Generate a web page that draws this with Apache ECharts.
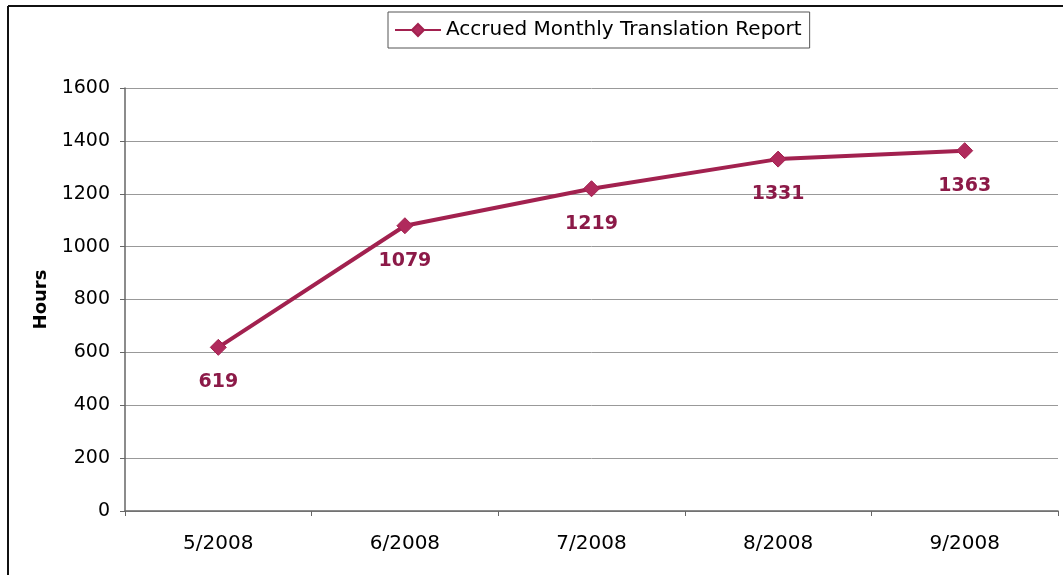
<!DOCTYPE html>
<html><head><meta charset="utf-8">
<script src="https://cdn.jsdelivr.net/npm/echarts@6/dist/echarts.min.js"></script>
<style>html,body{margin:0;padding:0;background:#fff}#c{width:1063px;height:575px}</style>
</head><body><div id="c"></div>
<script>
const categories = ['5/2008','6/2008','7/2008','8/2008','9/2008'];
const hours = [619, 1079, 1219, 1331, 1363];
const seriesName = 'Accrued Monthly Translation Report';
const yTicks = {min: 0, max: 1600, interval: 200};

const chart = echarts.init(document.getElementById('c'), null, {renderer: 'canvas'});
const font = 'DejaVu Sans';
chart.setOption({
  animation: false,
  backgroundColor: '#fff',
  textStyle: {fontFamily: font},
  graphic: [
    {type: 'line', shape: {x1: 8, y1: 6, x2: 1063, y2: 6}, style: {stroke: '#111', lineWidth: 2}},
    {type: 'line', shape: {x1: 8, y1: 6, x2: 8, y2: 575}, style: {stroke: '#111', lineWidth: 2}}
  ],
  legend: {
    top: 12, left: 388,
    data: [seriesName],
    itemWidth: 46, itemHeight: 15, itemGap: 4,
    borderColor: '#555', borderWidth: 1, padding: [8, 8, 8, 6],
    textStyle: {fontFamily: font, fontSize: 20, color: '#000'}
  },
  grid: {left: 125, right: 5, top: 88, bottom: 64, containLabel: false},
  xAxis: {
    type: 'category', data: categories, boundaryGap: true,
    axisLine: {lineStyle: {color: '#666', width: 1.5}},
    axisTick: {show: true, alignWithLabel: false, length: 5, lineStyle: {color: '#666'}},
    axisLabel: {fontFamily: font, fontSize: 20, color: '#000', margin: 23}
  },
  yAxis: {
    type: 'value', min: yTicks.min, max: yTicks.max, interval: yTicks.interval,
    name: 'Hours', nameLocation: 'middle', nameGap: 74, nameRotate: 90,
    nameTextStyle: {fontFamily: font, fontSize: 18, fontWeight: 'bold', color: '#000'},
    axisLine: {show: true, lineStyle: {color: '#666', width: 1.5}},
    axisTick: {show: true, length: 5, lineStyle: {color: '#666'}},
    axisLabel: {fontFamily: font, fontSize: 19, color: '#000', margin: 15, formatter: v => String(v)},
    splitLine: {lineStyle: {color: '#999', width: 1}}
  },
  series: [{
    name: seriesName, type: 'line', data: hours,
    symbol: 'diamond', symbolSize: 16,
    lineStyle: {color: '#A2214F', width: 4},
    itemStyle: {color: '#B02A5C', borderColor: '#A2214F', borderWidth: 1},
    label: {show: true, position: 'bottom', distance: 17, fontFamily: font, fontSize: 19, fontWeight: 'bold', color: '#8C1A48'}
  }]
});
</script></body></html>
